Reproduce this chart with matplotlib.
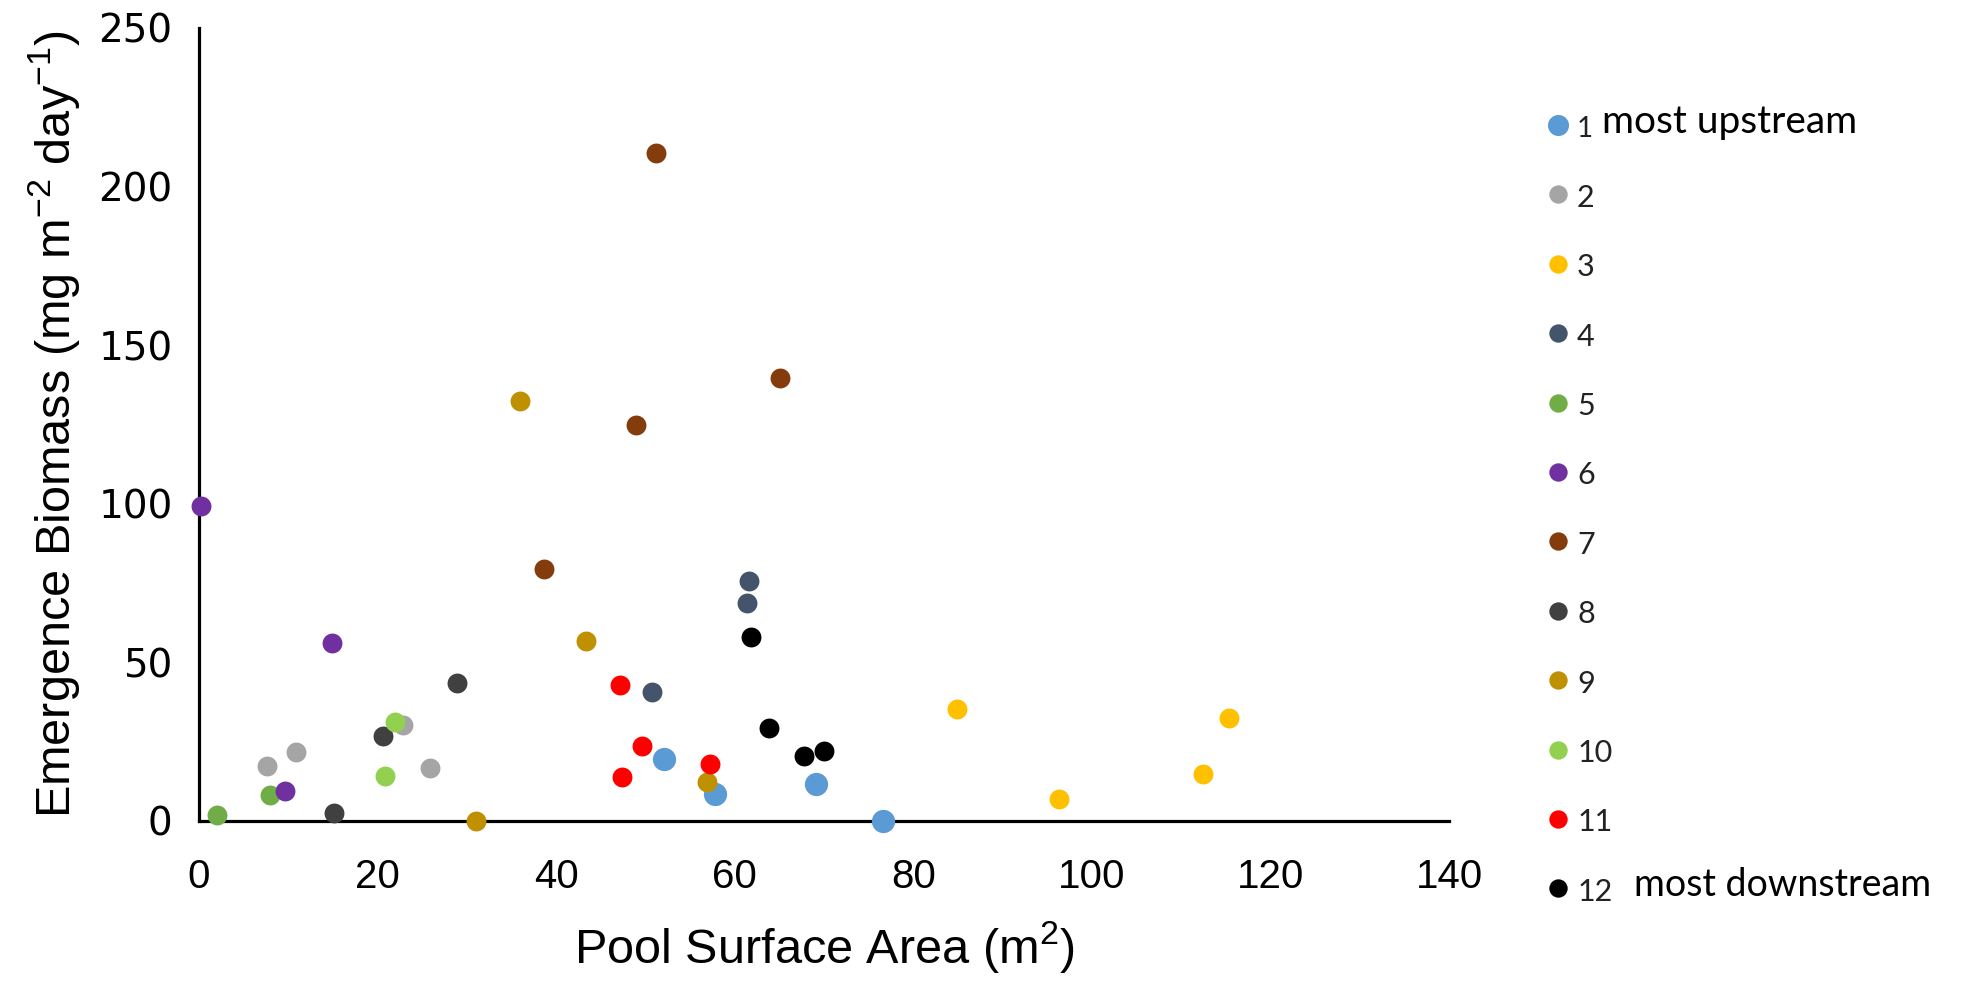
import matplotlib
matplotlib.use("Agg")
import matplotlib.pyplot as plt
from matplotlib import font_manager

# pool surface area (m2) / emergence biomass, one list per pool (1 = most upstream)
pools = ["1", "2", "3", "4", "5", "6", "7", "8", "9", "10", "11", "12"]
colors = ["#5B9BD5", "#A5A5A5", "#FFC000", "#44546A", "#70AD47", "#7030A0",
          "#843C0C", "#404040", "#BF9000", "#92D050", "#FF0000", "#000000"]

area_1 = [52.1, 57.8, 69.1, 76.6]
bio_1 = [19.4, 8.5, 11.6, 0.0]
area_2 = [7.6, 10.9, 22.9, 25.9]
bio_2 = [17.3, 21.8, 30.4, 16.7]
area_3 = [84.9, 96.3, 112.5, 115.4]
bio_3 = [35.4, 6.8, 14.8, 32.4]
area_4 = [50.7, 61.4, 61.6]
bio_4 = [40.5, 68.7, 75.6]
area_5 = [2.0, 7.9]
bio_5 = [1.8, 8.1]
area_6 = [0.2, 9.6, 14.9]
bio_6 = [99.3, 9.4, 56.1]
area_7 = [38.6, 49.0, 51.2, 65.1]
bio_7 = [79.3, 124.8, 210.5, 139.8]
area_8 = [15.1, 20.6, 28.9]
bio_8 = [2.6, 26.7, 43.5]
area_9 = [31.0, 35.9, 43.4, 56.9]
bio_9 = [0.0, 132.4, 56.8, 12.4]
area_10 = [20.8, 21.9]
bio_10 = [14.2, 31.2]
area_11 = [47.2, 47.4, 49.6, 57.2]
bio_11 = [43.0, 13.7, 23.7, 18.1]
area_12 = [61.8, 63.8, 67.8, 70.0]
bio_12 = [58.0, 29.3, 20.5, 21.9]

areas = [area_1, area_2, area_3, area_4, area_5, area_6,
         area_7, area_8, area_9, area_10, area_11, area_12]
bios = [bio_1, bio_2, bio_3, bio_4, bio_5, bio_6,
        bio_7, bio_8, bio_9, bio_10, bio_11, bio_12]

x_ticks = [0, 20, 40, 60, 80, 100, 120, 140]
y_ticks = [0, 50, 100, 150, 200, 250]

installed = {f.name for f in font_manager.fontManager.ttflist}
narrow = "Liberation Sans Narrow" if "Liberation Sans Narrow" in installed else "Liberation Sans"
body = "Lato" if "Lato" in installed else "DejaVu Sans"

# superscripts in the axis labels should use the label font, not DejaVu
plt.rcParams["mathtext.fontset"] = "custom"
plt.rcParams["mathtext.rm"] = narrow
plt.rcParams["mathtext.it"] = narrow
plt.rcParams["mathtext.default"] = "rm"

fig = plt.figure(figsize=(19.72, 9.82), dpi=100)
ax = fig.add_axes([0.1009, 0.1640, 0.6339, 0.8075])

for i in range(len(pools)):
    size = 280 if i == 0 else 205
    ax.scatter(areas[i], bios[i], s=size, color=colors[i], linewidths=0,
               clip_on=False, zorder=3 + i)

ax.set_xlim(0, 140)
ax.set_ylim(0, 250)
ax.set_xticks(x_ticks)
ax.set_yticks(y_ticks)
ax.set_xticklabels([str(t) for t in x_ticks], fontfamily=narrow, fontsize=29)
ax.set_yticklabels([str(t) for t in y_ticks], fontfamily="DejaVu Sans", fontsize=28)
ax.tick_params(axis="x", length=0, pad=27)
ax.tick_params(axis="y", length=0, pad=19)
for side in ["top", "right"]:
    ax.spines[side].set_visible(False)
for side in ["left", "bottom"]:
    ax.spines[side].set_linewidth(2.3)
    ax.spines[side].set_color("black")

ax.set_xlabel("Pool Surface Area (m$^2$)", fontfamily=narrow, fontsize=35, labelpad=16)
ax.set_ylabel("Emergence Biomass (mg m$^{-2}$ day$^{-1}$)", fontfamily=narrow,
              fontsize=35, labelpad=12)

# legend drawn in its own small axes, one row per pool
lax = fig.add_axes([0.7759, 0.060, 0.2241, 0.848])
lax.set_xlim(0, 442)
lax.set_ylim(12.5, 0.5)
lax.axis("off")
rows = list(range(1, len(pools) + 1))
for i, name in enumerate(pools):
    size = 230 if i == 0 else 175
    lax.text(47, rows[i] + 0.05, name, fontfamily=body,
             fontsize=20 if i == 0 else 22, va="center", ha="left", color="#222222")
    lax.scatter([28], [rows[i]], s=size, color=colors[i], linewidths=0)
lax.text(72, rows[0] - 0.05, "most upstream", fontfamily=body, fontsize=28,
         va="center", ha="left", color="black")
lax.text(104, rows[-1] - 0.05, "most downstream", fontfamily=body, fontsize=27,
         va="center", ha="left", color="black")

fig.savefig("out.png", dpi=100)
